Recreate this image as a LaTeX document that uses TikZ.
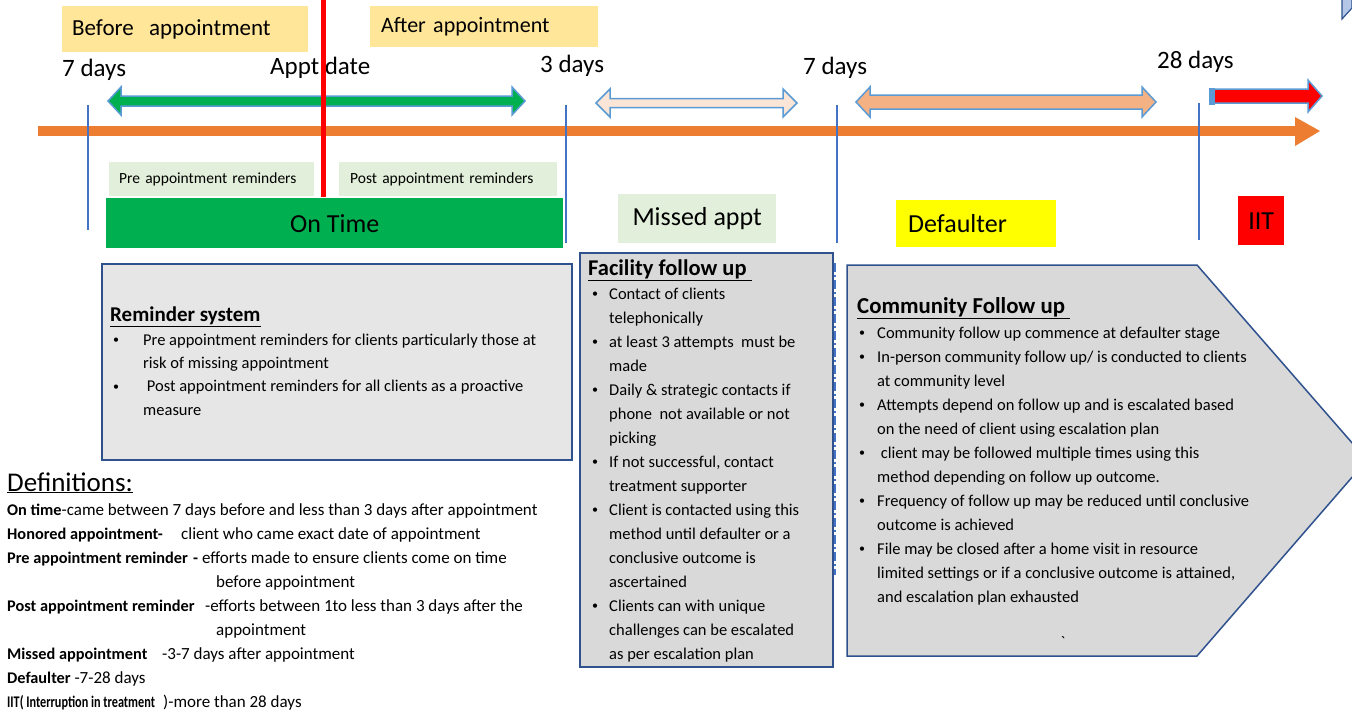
\documentclass[tikz,border=0pt]{standalone}
\usepackage{fontspec}
\usepackage{graphicx}
\setmainfont{Carlito}
\definecolor{yellowbg}{HTML}{FFE699}
\definecolor{lgreen}{HTML}{E2EFDA}
\definecolor{ontime}{HTML}{00B050}
\definecolor{axisorange}{HTML}{ED7D31}
\definecolor{tickblue}{HTML}{4472C4}
\definecolor{arrowline}{HTML}{5B9BD5}
\definecolor{peach}{HTML}{FBE5D6}
\definecolor{salmon}{HTML}{F4B183}
\definecolor{remfill}{HTML}{E7E6E6}
\definecolor{boxfill}{HTML}{D9D9D9}
\definecolor{boxline}{HTML}{2F528F}
\definecolor{cornerfill}{HTML}{B4C7E7}
\definecolor{defyellow}{HTML}{FFFF00}
\newcommand\smallbul{\raisebox{1.3pt}{\fontsize{12}{12}\selectfont\textbullet}}
\newcommand\bitem[1]{\makebox[#1][l]{\smallbul}}
\newcommand\bcont[1]{\hspace*{#1}}
\newcommand\dterm[1]{{\fontsize{16.3}{24}\selectfont\textbf{#1}}}
\begin{document}
\begin{tikzpicture}[x=1pt,y=-1pt,
  labbox/.style={anchor=north west, inner ysep=0pt, align=left},
  cbox/.style={anchor=north west, inner sep=0pt, align=center},
  daylab/.style={anchor=west, inner sep=0pt, font=\fontsize{25}{28}\selectfont},
  tickline/.style={draw=tickblue, line width=2.5pt},
  dblarrow/.style={draw=arrowline, line width=1.5pt, line join=miter},
  bigbox/.style={draw=boxline, line width=1.5pt, anchor=north west, inner sep=0pt},
  body/.style={anchor=north west, inner sep=0pt, align=left},
  title/.style={anchor=base west, inner sep=0pt}
]
\useasboundingbox (0,0) rectangle (1352,712);
\fill[white] (0,0) rectangle (1352,712);

% top phase labels
\node[labbox, fill=yellowbg, minimum width=246pt, minimum height=46pt, text width=226pt, inner xsep=10pt, font=\fontsize{23}{27}\selectfont] (before) at (62,6) {Before\ \ appointment};
\node[labbox, fill=yellowbg, minimum width=228pt, minimum height=41pt, text width=206pt, inner xsep=11pt, font=\fontsize{22}{26}\selectfont] (after) at (370,6) {After appointment};

% day labels
\node[daylab] (d7a) at (62,70) {7 days};
\node[daylab] (appt) at (270,68) {Appt date};
\node[daylab] (d3) at (540,66) {3 days};
\node[daylab] (d7b) at (803,68) {7 days};
\node[daylab] (d28) at (1157,62) {28 days};

% main axis
\fill[axisorange] (38,126) rectangle (1296,136);
\fill[axisorange] (1295,117) -- (1320,131) -- (1295,146) -- cycle;

% double arrows
\filldraw[dblarrow, fill=ontime] (108,101) -- (121,87) -- (121,96) -- (512,96) -- (512,87) -- (525,101) -- (512,115) -- (512,106) -- (121,106) -- (121,115) -- cycle;
\filldraw[dblarrow, fill=peach] (596,103) -- (610,89) -- (610,98.5) -- (783,98.5) -- (783,89) -- (797,103) -- (783,117) -- (783,107.5) -- (610,107.5) -- (610,117) -- cycle;
\filldraw[dblarrow, fill=salmon] (856,102) -- (870,87) -- (870,95) -- (1142,95) -- (1142,87) -- (1156,102) -- (1142,117) -- (1142,109) -- (870,109) -- (870,117) -- cycle;
\filldraw[dblarrow, fill=red] (1212,89) -- (1308,89) -- (1308,80) -- (1322,96) -- (1308,112) -- (1308,103) -- (1212,103) -- cycle;
\fill[arrowline] (1209,87.5) rectangle (1215,104.5);

% tick lines
\draw[tickline] (88,105) -- (88,230);
\draw[tickline] (566,105) -- (566,243);
\draw[tickline] (837,105) -- (837,243);
\draw[tickline] (1199,103) -- (1199,240);

% reminder labels
\node[labbox, fill=lgreen, minimum width=205pt, minimum height=34pt, text width=185pt, inner xsep=10pt, font=\fontsize{15.5}{18}\selectfont] (prerem) at (109,162) {Pre appointment reminders};
\node[labbox, fill=lgreen, minimum width=218pt, minimum height=34pt, text width=196pt, inner xsep=11pt, font=\fontsize{15.5}{18}\selectfont] (postrem) at (339,162) {Post appointment reminders};

% stage labels
\node[cbox, fill=ontime, minimum width=457pt, minimum height=50pt, font=\fontsize{26}{30}\selectfont] (ontimebox) at (106,198) {On Time};
\node[cbox, fill=lgreen, minimum width=158pt, minimum height=49pt, font=\fontsize{26}{30}\selectfont] (missed) at (618,194) {Missed appt};
\node[labbox, fill=defyellow, minimum width=160pt, minimum height=47pt, text width=136pt, inner xsep=12pt, font=\fontsize{26}{30}\selectfont] (defaulter) at (896,200) {Defaulter};
\node[cbox, fill=red, minimum width=46pt, minimum height=49pt, font=\fontsize{26}{30}\selectfont] (iit) at (1238,196) {IIT};

% appointment date line
\draw[red, line width=5pt] (323,0) -- (323,197);

% reminder system box
\node[bigbox, fill=remfill, minimum width=470pt, minimum height=196pt] (rembox) at (101,263) {};
\node[title, font=\fontsize{21}{24}\selectfont] (remtitle) at (110,321) {\underline{\textbf{Reminder system}}};
\node[body, font=\fontsize{16.5}{23.3}\selectfont] (rembody) at (113,333.5) {%
\bitem{30pt}Pre appointment reminders for clients particularly those at\\
\bcont{30pt}risk of missing appointment\\
\bitem{30pt} Post appointment reminders for all clients as a proactive\\
\bcont{30pt}measure};

% facility follow up box
\node[bigbox, fill=boxfill, minimum width=253pt, minimum height=414pt] (facbox) at (579,252) {};
\node[title, font=\fontsize{22.5}{26}\selectfont] (factitle) at (588,275) {\underline{\textbf{Facility follow up\ }}};
\node[body, font=\fontsize{16.5}{24}\selectfont] (facbody) at (592,287.5) {%
\bitem{17pt}Contact of clients\\
\bcont{17pt}telephonically\\
\bitem{17pt}at least 3 attempts\ \ must be\\
\bcont{17pt}made\\
\bitem{17pt}Daily \& strategic contacts if\\
\bcont{17pt}phone\ \ not available or not\\
\bcont{17pt}picking\\
\bitem{17pt}If not successful, contact\\
\bcont{17pt}treatment supporter\\
\bitem{17pt}Client is contacted using this\\
\bcont{17pt}method until defaulter or a\\
\bcont{17pt}conclusive outcome is\\
\bcont{17pt}ascertained\\
\bitem{17pt}Clients can with unique\\
\bcont{17pt}challenges can be escalated\\
\bcont{17pt}as per escalation plan};

% separator
\draw[draw=tickblue, line width=2pt, dash pattern=on 9pt off 3pt on 2pt off 3pt] (835,263) -- (835,575);

% community follow up pentagon
\begin{scope}
\clip (0,0) rectangle (1352,712);
\filldraw[draw=boxline, line width=1.5pt, fill=boxfill] (847,265) -- (1197,265) -- (1367,460) -- (1197,656) -- (847,656) -- cycle;
\end{scope}
\node[title, font=\fontsize{22.8}{26}\selectfont] (comtitle) at (857,313) {\underline{\textbf{Community Follow up\ }}};
\node[body, font=\fontsize{16.5}{24}\selectfont] (combody) at (859,326.5) {%
\bitem{18pt}Community follow up commence at defaulter stage\\
\bitem{18pt}In-person community follow up/ is conducted to clients\\
\bcont{18pt}at community level\\
\bitem{18pt}Attempts depend on follow up and is escalated based\\
\bcont{18pt}on the need of client using escalation plan\\
\bitem{18pt} client may be followed multiple times using this\\
\bcont{18pt}method depending on follow up outcome.\\
\bitem{18pt}Frequency of follow up may be reduced until conclusive\\
\bcont{18pt}outcome is achieved\\
\bitem{18pt}File may be closed after a home visit in resource\\
\bcont{18pt}limited settings or if a conclusive outcome is attained,\\
\bcont{18pt}and escalation plan exhausted};
\node[inner sep=0pt, font=\fontsize{16}{18}\selectfont] (tick) at (1063,642) {\textasciigrave};

% definitions
\node[title, font=\fontsize{27}{30}\selectfont] (deftitle) at (7,491) {\underline{Definitions:}};
\node[body, font=\fontsize{17}{24}\selectfont] (defbody) at (7,503.5) {%
\dterm{On time}-came between 7 days before and less than 3 days after appointment\\
\makebox[174pt][l]{\dterm{Honored appointment-}}client who came exact date of appointment\\
\makebox[186pt][l]{\dterm{Pre appointment reminder}}\dterm{-} efforts made to ensure clients come on time\\
\bcont{209pt}before appointment\\
\makebox[198pt][l]{\dterm{Post appointment reminder}}-efforts between 1to less than 3 days after the\\
\bcont{209pt}appointment\\
\makebox[155pt][l]{\dterm{Missed appointment}}-3-7 days after appointment\\
\dterm{Defaulter} -7-28 days\\
\makebox[156pt][l]{\scalebox{0.75}[1]{\dterm{IIT( Interruption in treatment}}})-more than 28 days};

% corner shape
\filldraw[fill=cornerfill, draw=boxline, line width=1.2pt] (1342,0) -- (1342,19) -- (1352,8) -- (1352,0);
\end{tikzpicture}
\end{document}
